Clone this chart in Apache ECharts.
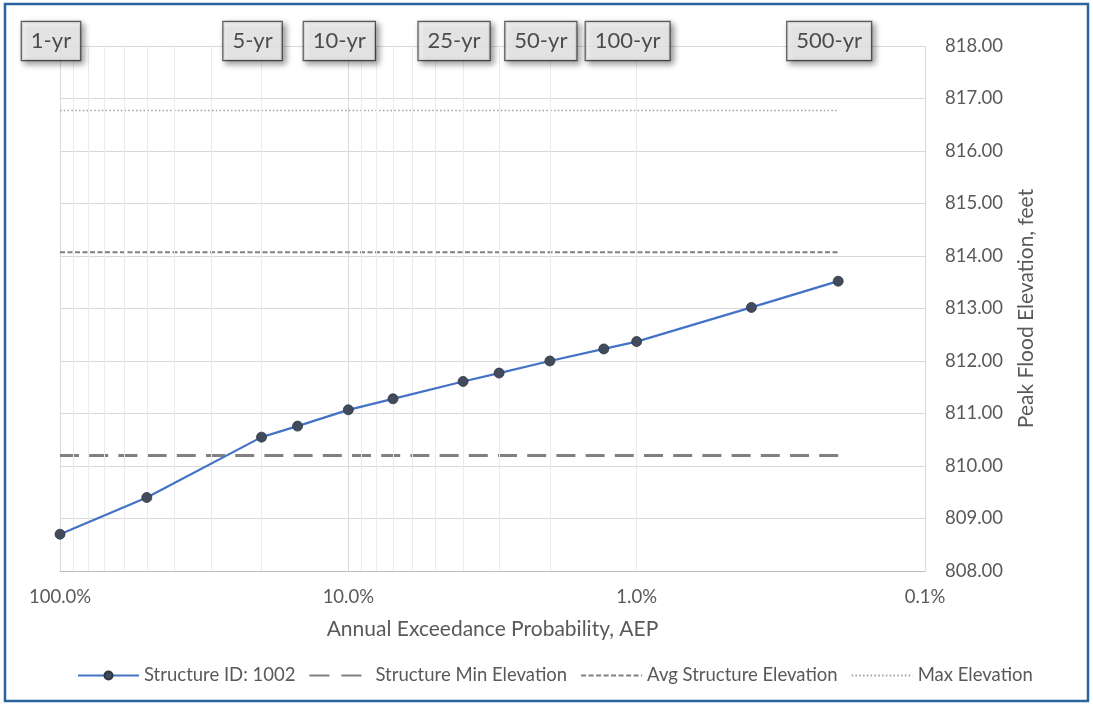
<!DOCTYPE html>
<html>
<head>
<meta charset="utf-8">
<script src="https://cdn.jsdelivr.net/npm/echarts@6/dist/echarts.min.js"></script>
<style>
  html, body { margin: 0; padding: 0; background: #ffffff; }
  #chart { width: 1093px; height: 708px; }
</style>
</head>
<body>
<div id="chart"></div>
<script>
// Annual exceedance probability of each modelled event
const aep = [1, 0.5, 0.2, 0.15, 0.1, 0.07, 0.04, 0.03, 0.02, 0.013, 0.01, 0.004, 0.002];
// Peak flood elevation (feet) for Structure ID 1002
const peakElevation = [808.70, 809.40, 810.55, 810.76, 811.07, 811.28, 811.61, 811.77, 812.00, 812.23, 812.37, 813.02, 813.52];

// Reference elevations drawn across the full probability range
const minElevation = 810.20;
const avgElevation = 814.07;
const maxElevation = 816.77;
const levelRange = [1, 0.002];

// Return-period call-outs along the top of the plot
const periodLabels = ['1-yr', '5-yr', '10-yr', '25-yr', '50-yr', '100-yr', '500-yr'];
const periodAep = [1, 0.2, 0.1, 0.04, 0.02, 0.01, 0.002];

// Axis ranges
const xMin = 0.001, xMax = 1;
const yMin = 808, yMax = 818, yStep = 1;

// Log-scale minor gridlines at 2..9 within each decade
const minorGrid = [];
[0.001, 0.01, 0.1].forEach(d => { for (let k = 2; k <= 9; k++) minorGrid.push(+(k * d).toPrecision(3)); });

const FONT = 'Lato';
const GREY_TEXT = '#595959';

const chart = echarts.init(document.getElementById('chart'), null, { renderer: 'canvas' });

const levelSeries = (name, value, style) => ({
  name: name,
  type: 'line',
  data: levelRange.map(x => [x, value]),
  symbol: 'none',
  showSymbol: false,
  lineStyle: style,
  itemStyle: { color: style.color },
  silent: true,
  z: 3
});

// Legend entries for the level lines show the line pattern only
const plainLegend = (name, lineStyle) => Object.assign(
  { name: name, itemStyle: { opacity: 0 } },
  lineStyle ? { lineStyle: lineStyle } : {}
);

chart.setOption({
  animation: false,
  backgroundColor: '#ffffff',
  graphic: [{
    type: 'rect',
    shape: { x: 5, y: 4, width: 1083, height: 697 },
    style: { fill: 'none', stroke: '#2a64a0', lineWidth: 2.5 },
    silent: true,
    z: 100
  }],
  grid: { left: 60, right: 168, top: 46, bottom: 137, containLabel: false },
  legend: {
    data: [
      'Structure ID: 1002',
      plainLegend('Structure Min Elevation', { type: [20, 12] }),
      plainLegend('Avg Structure Elevation'),
      plainLegend('Max Elevation')
    ],
    left: 72,
    top: 661,
    itemWidth: 61,
    itemHeight: 10,
    itemGap: 13,
    textStyle: { fontFamily: FONT, fontSize: 18.5, color: GREY_TEXT }
  },
  xAxis: {
    type: 'log',
    logBase: 10,
    min: xMin,
    max: xMax,
    inverse: true,
    name: 'Annual Exceedance Probability, AEP',
    nameLocation: 'middle',
    nameGap: 48,
    nameTextStyle: { fontFamily: FONT, fontSize: 21, color: GREY_TEXT },
    axisLine: { show: true, lineStyle: { color: '#bfbfbf', width: 1 } },
    axisTick: { show: false },
    axisLabel: {
      margin: 17,
      fontFamily: FONT,
      fontSize: 18.5,
      color: GREY_TEXT,
      formatter: v => (v * 100).toFixed(1) + '%'
    },
    splitLine: { show: true, lineStyle: { color: '#d9d9d9', width: 1 } }
  },
  yAxis: {
    type: 'value',
    position: 'right',
    min: yMin,
    max: yMax,
    interval: yStep,
    name: 'Peak Flood Elevation, feet',
    nameLocation: 'middle',
    nameRotate: 90,
    nameGap: 91,
    nameTextStyle: { fontFamily: FONT, fontSize: 21, color: GREY_TEXT },
    axisLine: { show: false },
    axisTick: { show: false },
    axisLabel: {
      margin: 20,
      fontFamily: FONT,
      fontSize: 18.5,
      color: GREY_TEXT,
      formatter: v => v.toFixed(2)
    },
    splitLine: { show: true, lineStyle: { color: '#d9d9d9', width: 1 } }
  },
  series: [
    {
      name: 'minor-grid',
      type: 'line',
      data: [],
      silent: true,
      z: 1,
      markLine: {
        silent: true,
        symbol: 'none',
        label: { show: false },
        lineStyle: { color: '#ebebeb', width: 1, type: 'solid' },
        data: minorGrid.map(v => ({ xAxis: v }))
      }
    },
    {
      name: 'Structure ID: 1002',
      type: 'line',
      data: aep.map((a, i) => [a, peakElevation[i]]),
      symbol: 'circle',
      symbolSize: 10,
      showSymbol: true,
      lineStyle: { color: '#4472c4', width: 2.25 },
      itemStyle: { color: '#414b5c', borderColor: '#2f3744', borderWidth: 0.8 },
      z: 5
    },
    levelSeries('Structure Min Elevation', minElevation, { color: '#808080', width: 3, type: [19, 10.2] }),
    levelSeries('Avg Structure Elevation', avgElevation, { color: '#808080', width: 2, type: [5, 2.5] }),
    levelSeries('Max Elevation', maxElevation, { color: '#a0a0a0', width: 1.5, type: [1.5, 2.3] }),
    {
      name: 'return-periods',
      type: 'scatter',
      data: periodAep.map((a, i) => [a, yMax, periodLabels[i]]),
      symbolSize: 0,
      silent: true,
      clip: false,
      z: 10,
      label: {
        show: true,
        position: 'inside',
        offset: [-9, -5],
        formatter: p => p.value[2],
        fontFamily: FONT,
        fontSize: 22,
        color: '#262626',
        backgroundColor: '#f2f2f2',
        borderColor: '#3a3a3a',
        borderWidth: 1.2,
        padding: [8, 9, 8, 9],
        shadowColor: 'rgba(0,0,0,0.45)',
        shadowBlur: 6,
        shadowOffsetX: 3,
        shadowOffsetY: 3
      }
    }
  ]
});
</script>
</body>
</html>
